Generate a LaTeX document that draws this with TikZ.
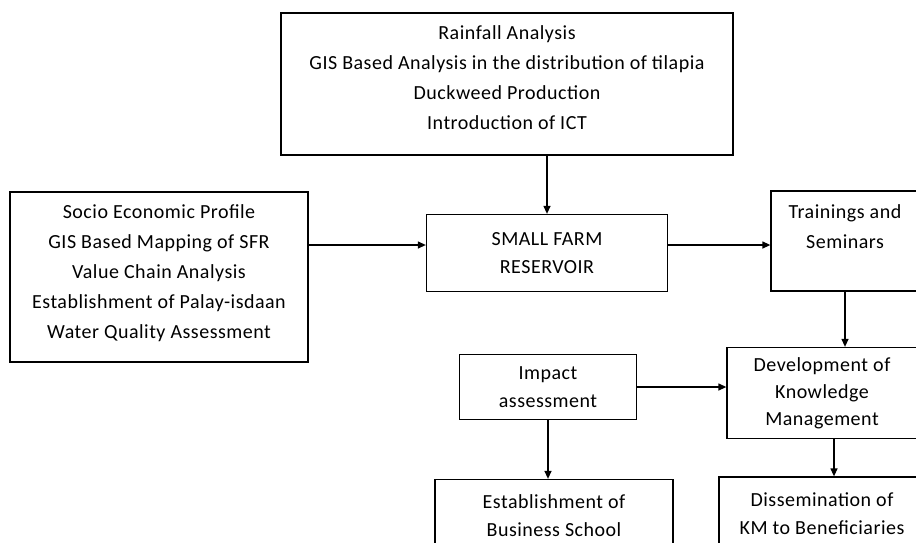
\documentclass[tikz,border=0pt]{standalone}
\usepackage{fontspec}
\setmainfont{Carlito}[LetterSpace=2.5]
\usetikzlibrary{arrows.meta}

\begin{document}
\begin{tikzpicture}[x=1pt, y=-1pt,
    box/.style={draw=black, line width=1.3pt, inner sep=0pt},
    txt/.style={align=center, inner sep=0pt, font=\fontsize{20}{28}\selectfont},
    arr/.style={-{Triangle[length=8pt, width=7pt]}, line width=1.3pt}
  ]
  \useasboundingbox (0,0) rectangle (916,542);
  \clip (0,0) rectangle (916,542);

  % boxes whose text sits high
  \node[box, minimum width=452pt, minimum height=142pt] (studies) at (507,84) {};
  \node[txt, font=\fontsize{20}{30}\selectfont] (studiestxt) at (507,78)
  {Rainfall Analysis\\GIS Based Analysis in the distribution of tilapia\\Duckweed Production\\Introduction of ICT};
  \node[box, minimum width=298pt, minimum height=170pt] (profile) at (159,277) {};
  \node[txt, font=\fontsize{20}{30}\selectfont] (profiletxt) at (159,273)
  {Socio Economic Profile\\GIS Based Mapping of SFR\\Value Chain Analysis\\Establishment of Palay-isdaan\\Water Quality Assessment};
  \node[box, minimum width=148pt, minimum height=100pt] (training) at (845,241) {};
  \node[txt, font=\fontsize{20}{30}\selectfont] (trainingtxt) at (845,227) {Trainings and\\Seminars};

  \node[box, txt, minimum width=241pt, minimum height=77pt] (sfr) at (547,253) {SMALL FARM\\RESERVOIR};
  \node[box, txt, minimum width=177pt, minimum height=65pt] (impact) at (548,387) {Impact\\assessment};
  \node[box, txt, font=\fontsize{20}{27}\selectfont, minimum width=190pt, minimum height=91pt]
  (dkm) at (822,393) {Development of\\Knowledge\\Management};
  \node[box, txt, minimum width=238pt, minimum height=73pt] (school) at (554,516) {Establishment of\\Business School};
  \node[box, txt, minimum width=206pt, minimum height=74pt] (dissem) at (822,514) {Dissemination of\\KM to Beneficiaries};

  \coordinate (sfrin) at ([yshift=8pt]sfr.west);
  \coordinate (sfrout) at ([yshift=8pt]sfr.east);
  \coordinate (dkmout) at ([xshift=12pt]dkm.south);

  \draw[arr] (studies.south -| sfr.north) -- (sfr.north);
  \draw[arr] (profile.east |- sfrin) -- (sfrin);
  \draw[arr] (sfrout) -- (sfrout -| training.west);
  \draw[arr] (training.south) -- (training.south |- dkm.north);
  \draw[arr] (impact.east) -- (impact.east -| dkm.west);
  \draw[arr] (impact.south) -- (impact.south |- school.north);
  \draw[arr] (dkmout) -- (dkmout |- dissem.north);
\end{tikzpicture}
\end{document}
